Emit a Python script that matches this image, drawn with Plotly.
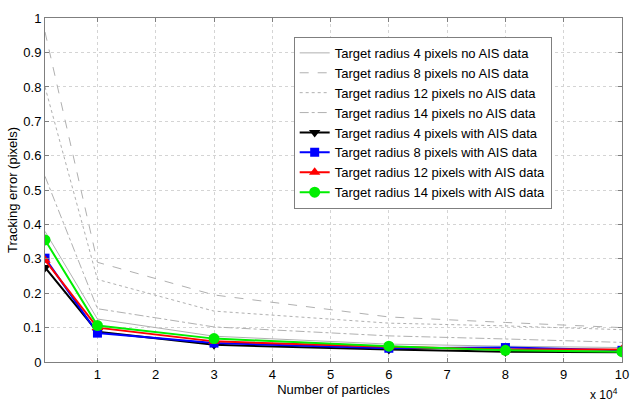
import plotly.graph_objects as go

# x positions (units of 10^4 particles)
particles = [0.1, 1, 3, 6, 8, 10]

# no AIS data (gray)
r4_no = [0.38, 0.125, 0.075, 0.052, 0.046, 0.042]
r8_no = [0.96, 0.29, 0.195, 0.131, 0.115, 0.100]
r12_no = [0.80, 0.24, 0.148, 0.113, 0.105, 0.094]
r14_no = [0.54, 0.155, 0.102, 0.076, 0.067, 0.057]

# with AIS data (colored)
r4_ais = [0.275, 0.088, 0.050, 0.036, 0.030, 0.028]
r8_ais = [0.302, 0.084, 0.055, 0.040, 0.042, 0.034]
r12_ais = [0.296, 0.100, 0.060, 0.044, 0.036, 0.036]
r14_ais = [0.355, 0.106, 0.068, 0.046, 0.034, 0.030]

names_no = ["Target radius 4 pixels no AIS data",
            "Target radius 8 pixels no AIS data",
            "Target radius 12 pixels no AIS data",
            "Target radius 14 pixels no AIS data"]
names_ais = ["Target radius 4 pixels with AIS data",
             "Target radius 8 pixels with AIS data",
             "Target radius 12 pixels with AIS data",
             "Target radius 14 pixels with AIS data"]

xticks = [1, 2, 3, 4, 5, 6, 7, 8, 9, 10]
yticks = [0, 0.1, 0.2, 0.3, 0.4, 0.5, 0.6, 0.7, 0.8, 0.9, 1]
ytick_text = ["0", "0.1", "0.2", "0.3", "0.4", "0.5", "0.6", "0.7", "0.8", "0.9", "1"]

fig = go.Figure()

gray = "#b0b0b0"
dashes = ["solid", "dash", "dot", "dashdot"]
for ys, nm, d in zip([r4_no, r8_no, r12_no, r14_no], names_no, dashes):
    fig.add_trace(go.Scatter(x=particles, y=ys, name=nm, mode="lines",
                             line=dict(color=gray, width=1, dash=d)))

colors = ["#000000", "#0000ff", "#ff0000", "#00ee00"]
symbols = ["triangle-down", "square", "triangle-up", "circle"]
sizes = [10, 9, 10, 11]
for ys, nm, c, s, sz in zip([r4_ais, r8_ais, r12_ais, r14_ais], names_ais, colors, symbols, sizes):
    fig.add_trace(go.Scatter(x=particles, y=ys, name=nm, mode="lines+markers",
                             line=dict(color=c, width=2),
                             marker=dict(color=c, symbol=s, size=sz)))

axis_common = dict(showline=True, linecolor="#7f7f7f", linewidth=1, mirror="ticks",
                   ticks="inside", ticklen=4, tickcolor="#7f7f7f",
                   showgrid=True, gridcolor="#d4d4d4", griddash="dot", gridwidth=1,
                   zeroline=False, tickfont=dict(size=13, color="#000000"),
                   ticklabeloverflow="allow", automargin=False)

fig.update_xaxes(range=[0.1, 10.0005], tickvals=xticks, ticktext=[str(t) for t in xticks],
                 title=dict(text="Number of particles", font=dict(size=13, color="#000"), standoff=2),
                 **axis_common)
fig.update_yaxes(range=[0, 1.0005], tickvals=yticks, ticktext=ytick_text,
                 title=dict(text="Tracking error (pixels)", font=dict(size=13, color="#000"), standoff=2),
                 **axis_common)

fig.add_annotation(text="x 10<sup>4</sup>", xref="paper", yref="paper", x=1.0, y=0,
                   xanchor="right", yanchor="top", yshift=-22, xshift=-2, showarrow=False,
                   font=dict(size=12, color="#000"))

fig.update_layout(
    width=630, height=403,
    margin=dict(l=45, r=8, t=18, b=41, autoexpand=False),
    paper_bgcolor="white", plot_bgcolor="white",
    font=dict(family="Arial, Liberation Sans, sans-serif", color="#000"),
    legend=dict(x=0.431, y=0.945, xanchor="left", yanchor="top",
                bgcolor="white", bordercolor="#7f7f7f", borderwidth=1,
                font=dict(size=13, color="#000"), tracegroupgap=0),
    showlegend=True,
)

fig.write_html("out.html")
